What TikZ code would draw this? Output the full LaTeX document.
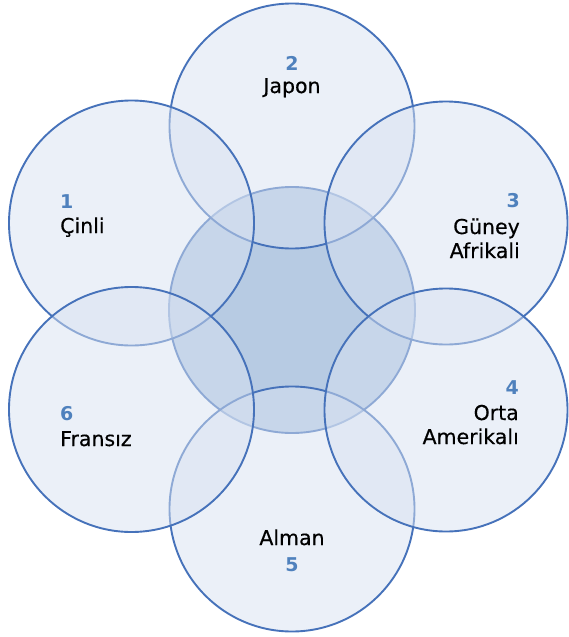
\documentclass[tikz,border=0pt]{standalone}
\usepackage{fontspec}
\setmainfont{DejaVu Sans}
\newfontfamily\lblfont[FakeBold=0.4]{DejaVu Sans}
\newfontfamily\numfont{DejaVu Sans Bold}
\definecolor{ring}{RGB}{70,114,186}
\definecolor{ringfill}{RGB}{215,225,241}
\definecolor{corefill}{RGB}{183,203,227}
\definecolor{numblue}{RGB}{79,129,189}
\tikzset{
  petal/.style={circle, draw=ring, line width=1.9pt, fill=ringfill, fill opacity=0.5, draw opacity=1, minimum size=245pt, inner sep=0pt},
  core/.style={circle, draw=ring, line width=1.9pt, fill=corefill, minimum size=246pt, inner sep=0pt},
  num/.style={font=\numfont\fontsize{19}{19}\selectfont, text=numblue, inner sep=0pt},
  lbl/.style={font=\lblfont\fontsize{20.5}{20.5}\selectfont, text=black, inner sep=0pt},
}
\begin{document}
\begin{tikzpicture}[x=1pt,y=-1pt]
\useasboundingbox (0,0) rectangle (568,637);
% circles
\node[core]  (c0) at (292,310) {};
\node[petal] (c2) at (292,126) {};
\node[petal] (c1) at (131.5,223) {};
\node[petal, minimum size=243pt] (c3) at (446,223) {};
\node[petal] (c5) at (292,509) {};
\node[petal, minimum size=243pt] (c4) at (446,410) {};
\node[petal] (c6) at (131.5,409.5) {};
% labels
\node[num, anchor=base west] (n1) at (60,208) {1};
\node[lbl, anchor=base west] (t1) at (60,233) {Çinli};
\node[num, anchor=base] (n2) at (292,70) {2};
\node[lbl, anchor=base] (t2) at (292,93) {Japon};
\node[num, anchor=base east] (n3) at (520,207) {3};
\node[lbl, anchor=base east] (t3a) at (520,234) {Güney};
\node[lbl, anchor=base east] (t3b) at (520,258) {Afrikali};
\node[num, anchor=base east] (n4) at (519,394) {4};
\node[lbl, anchor=base east] (t4a) at (519,420) {Orta};
\node[lbl, anchor=base east] (t4b) at (519,444) {Amerikalı};
\node[lbl, anchor=base] (t5) at (292,545) {Alman};
\node[num, anchor=base] (n5) at (292,571) {5};
\node[num, anchor=base west] (n6) at (60,420) {6};
\node[lbl, anchor=base west] (t6) at (60,446) {Fransız};
\end{tikzpicture}
\end{document}
